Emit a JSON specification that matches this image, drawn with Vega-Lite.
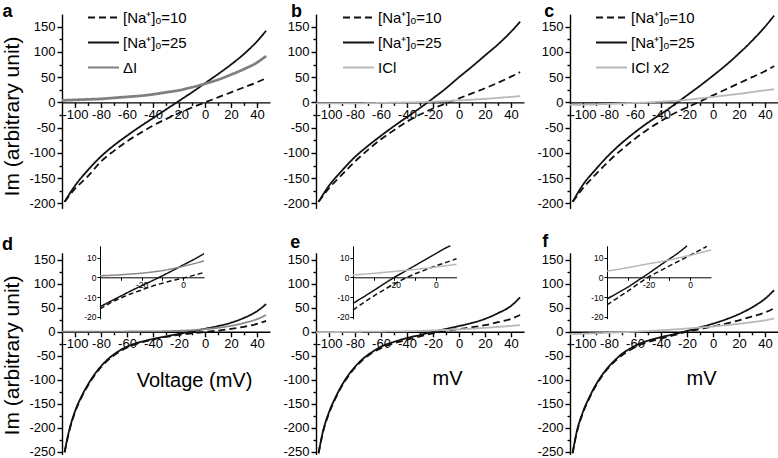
{
"$schema":"https://vega.github.io/schema/vega-lite/v6.json",
"width":778,"height":458,"autosize":{"type":"none"},"padding":0,"background":"white",
"config":{
 "font":"Liberation Sans",
 "view":{"stroke":null},
 "axis":{"domainColor":"#000","tickColor":"#000","labelColor":"#000","titleColor":"#000","grid":false,"domainWidth":1.4,"tickWidth":1.4,"labelOverlap":false,"labelFlush":false,"labelFontSize":13,"titleFontWeight":"normal"},
 "legend":{"symbolType":"stroke","symbolSize":961,"symbolStrokeWidth":1.8,"labelFontSize":15,"labelColor":"#000","labelOffset":3,"rowPadding":-6,"padding":0}
},
"datasets":{
"main":[
{"panel":"a","series":"[Na⁺]ₒ=10","mV":-108,"Im":-197},{"panel":"a","series":"[Na⁺]ₒ=10","mV":-100,"Im":-171},{"panel":"a","series":"[Na⁺]ₒ=10","mV":-90,"Im":-146},{"panel":"a","series":"[Na⁺]ₒ=10","mV":-80,"Im":-117},{"panel":"a","series":"[Na⁺]ₒ=10","mV":-70,"Im":-96},{"panel":"a","series":"[Na⁺]ₒ=10","mV":-60,"Im":-77},{"panel":"a","series":"[Na⁺]ₒ=10","mV":-50,"Im":-61},{"panel":"a","series":"[Na⁺]ₒ=10","mV":-40,"Im":-46},{"panel":"a","series":"[Na⁺]ₒ=10","mV":-30,"Im":-33},{"panel":"a","series":"[Na⁺]ₒ=10","mV":-20,"Im":-21},{"panel":"a","series":"[Na⁺]ₒ=10","mV":-10,"Im":-10},{"panel":"a","series":"[Na⁺]ₒ=10","mV":0,"Im":0},{"panel":"a","series":"[Na⁺]ₒ=10","mV":10,"Im":10},{"panel":"a","series":"[Na⁺]ₒ=10","mV":20,"Im":20},{"panel":"a","series":"[Na⁺]ₒ=10","mV":30,"Im":30},{"panel":"a","series":"[Na⁺]ₒ=10","mV":40,"Im":40},{"panel":"a","series":"[Na⁺]ₒ=10","mV":47,"Im":48},
{"panel":"a","series":"[Na⁺]ₒ=25","mV":-108,"Im":-197},{"panel":"a","series":"[Na⁺]ₒ=25","mV":-100,"Im":-165},{"panel":"a","series":"[Na⁺]ₒ=25","mV":-90,"Im":-134},{"panel":"a","series":"[Na⁺]ₒ=25","mV":-80,"Im":-107},{"panel":"a","series":"[Na⁺]ₒ=25","mV":-70,"Im":-85},{"panel":"a","series":"[Na⁺]ₒ=25","mV":-60,"Im":-66},{"panel":"a","series":"[Na⁺]ₒ=25","mV":-50,"Im":-48},{"panel":"a","series":"[Na⁺]ₒ=25","mV":-40,"Im":-31},{"panel":"a","series":"[Na⁺]ₒ=25","mV":-30,"Im":-14},{"panel":"a","series":"[Na⁺]ₒ=25","mV":-20,"Im":3},{"panel":"a","series":"[Na⁺]ₒ=25","mV":-10,"Im":20},{"panel":"a","series":"[Na⁺]ₒ=25","mV":0,"Im":38},{"panel":"a","series":"[Na⁺]ₒ=25","mV":10,"Im":56},{"panel":"a","series":"[Na⁺]ₒ=25","mV":20,"Im":75},{"panel":"a","series":"[Na⁺]ₒ=25","mV":30,"Im":96},{"panel":"a","series":"[Na⁺]ₒ=25","mV":40,"Im":121},{"panel":"a","series":"[Na⁺]ₒ=25","mV":47,"Im":142},
{"panel":"a","series":"ΔI","mV":-110,"Im":4},{"panel":"a","series":"ΔI","mV":-100,"Im":5},{"panel":"a","series":"ΔI","mV":-90,"Im":6},{"panel":"a","series":"ΔI","mV":-80,"Im":7},{"panel":"a","series":"ΔI","mV":-70,"Im":9},{"panel":"a","series":"ΔI","mV":-60,"Im":11},{"panel":"a","series":"ΔI","mV":-50,"Im":13},{"panel":"a","series":"ΔI","mV":-40,"Im":16},{"panel":"a","series":"ΔI","mV":-30,"Im":20},{"panel":"a","series":"ΔI","mV":-20,"Im":24},{"panel":"a","series":"ΔI","mV":-10,"Im":30},{"panel":"a","series":"ΔI","mV":0,"Im":37},{"panel":"a","series":"ΔI","mV":10,"Im":45},{"panel":"a","series":"ΔI","mV":20,"Im":55},{"panel":"a","series":"ΔI","mV":30,"Im":66},{"panel":"a","series":"ΔI","mV":40,"Im":79},{"panel":"a","series":"ΔI","mV":47,"Im":92},
{"panel":"b","series":"[Na⁺]ₒ=10","mV":-108,"Im":-197},{"panel":"b","series":"[Na⁺]ₒ=10","mV":-100,"Im":-170},{"panel":"b","series":"[Na⁺]ₒ=10","mV":-90,"Im":-143},{"panel":"b","series":"[Na⁺]ₒ=10","mV":-80,"Im":-117},{"panel":"b","series":"[Na⁺]ₒ=10","mV":-70,"Im":-94},{"panel":"b","series":"[Na⁺]ₒ=10","mV":-60,"Im":-73},{"panel":"b","series":"[Na⁺]ₒ=10","mV":-50,"Im":-55},{"panel":"b","series":"[Na⁺]ₒ=10","mV":-40,"Im":-38},{"panel":"b","series":"[Na⁺]ₒ=10","mV":-30,"Im":-24},{"panel":"b","series":"[Na⁺]ₒ=10","mV":-20,"Im":-12},{"panel":"b","series":"[Na⁺]ₒ=10","mV":-10,"Im":-2},{"panel":"b","series":"[Na⁺]ₒ=10","mV":0,"Im":8},{"panel":"b","series":"[Na⁺]ₒ=10","mV":10,"Im":18},{"panel":"b","series":"[Na⁺]ₒ=10","mV":20,"Im":28},{"panel":"b","series":"[Na⁺]ₒ=10","mV":30,"Im":39},{"panel":"b","series":"[Na⁺]ₒ=10","mV":40,"Im":51},{"panel":"b","series":"[Na⁺]ₒ=10","mV":47,"Im":60},
{"panel":"b","series":"[Na⁺]ₒ=25","mV":-108,"Im":-197},{"panel":"b","series":"[Na⁺]ₒ=25","mV":-100,"Im":-165},{"panel":"b","series":"[Na⁺]ₒ=25","mV":-90,"Im":-135},{"panel":"b","series":"[Na⁺]ₒ=25","mV":-80,"Im":-108},{"panel":"b","series":"[Na⁺]ₒ=25","mV":-70,"Im":-86},{"panel":"b","series":"[Na⁺]ₒ=25","mV":-60,"Im":-66},{"panel":"b","series":"[Na⁺]ₒ=25","mV":-50,"Im":-47},{"panel":"b","series":"[Na⁺]ₒ=25","mV":-40,"Im":-29},{"panel":"b","series":"[Na⁺]ₒ=25","mV":-30,"Im":-11},{"panel":"b","series":"[Na⁺]ₒ=25","mV":-20,"Im":8},{"panel":"b","series":"[Na⁺]ₒ=25","mV":-10,"Im":28},{"panel":"b","series":"[Na⁺]ₒ=25","mV":0,"Im":50},{"panel":"b","series":"[Na⁺]ₒ=25","mV":10,"Im":71},{"panel":"b","series":"[Na⁺]ₒ=25","mV":20,"Im":93},{"panel":"b","series":"[Na⁺]ₒ=25","mV":30,"Im":115},{"panel":"b","series":"[Na⁺]ₒ=25","mV":40,"Im":140},{"panel":"b","series":"[Na⁺]ₒ=25","mV":47,"Im":160},
{"panel":"b","series":"ICl","mV":-110,"Im":-2},{"panel":"b","series":"ICl","mV":-100,"Im":-2},{"panel":"b","series":"ICl","mV":-90,"Im":-2},{"panel":"b","series":"ICl","mV":-80,"Im":-2},{"panel":"b","series":"ICl","mV":-70,"Im":-1.5},{"panel":"b","series":"ICl","mV":-60,"Im":-1},{"panel":"b","series":"ICl","mV":-50,"Im":-0.5},{"panel":"b","series":"ICl","mV":-40,"Im":0},{"panel":"b","series":"ICl","mV":-30,"Im":0.5},{"panel":"b","series":"ICl","mV":-20,"Im":1.5},{"panel":"b","series":"ICl","mV":-10,"Im":2.5},{"panel":"b","series":"ICl","mV":0,"Im":4},{"panel":"b","series":"ICl","mV":10,"Im":5.5},{"panel":"b","series":"ICl","mV":20,"Im":7},{"panel":"b","series":"ICl","mV":30,"Im":9},{"panel":"b","series":"ICl","mV":40,"Im":11},{"panel":"b","series":"ICl","mV":47,"Im":12.5},
{"panel":"c","series":"[Na⁺]ₒ=10","mV":-108,"Im":-197},{"panel":"c","series":"[Na⁺]ₒ=10","mV":-100,"Im":-170},{"panel":"c","series":"[Na⁺]ₒ=10","mV":-90,"Im":-142},{"panel":"c","series":"[Na⁺]ₒ=10","mV":-80,"Im":-116},{"panel":"c","series":"[Na⁺]ₒ=10","mV":-70,"Im":-93},{"panel":"c","series":"[Na⁺]ₒ=10","mV":-60,"Im":-72},{"panel":"c","series":"[Na⁺]ₒ=10","mV":-50,"Im":-53},{"panel":"c","series":"[Na⁺]ₒ=10","mV":-40,"Im":-37},{"panel":"c","series":"[Na⁺]ₒ=10","mV":-30,"Im":-22},{"panel":"c","series":"[Na⁺]ₒ=10","mV":-20,"Im":-10},{"panel":"c","series":"[Na⁺]ₒ=10","mV":-10,"Im":2},{"panel":"c","series":"[Na⁺]ₒ=10","mV":0,"Im":14},{"panel":"c","series":"[Na⁺]ₒ=10","mV":10,"Im":26},{"panel":"c","series":"[Na⁺]ₒ=10","mV":20,"Im":38},{"panel":"c","series":"[Na⁺]ₒ=10","mV":30,"Im":50},{"panel":"c","series":"[Na⁺]ₒ=10","mV":40,"Im":62},{"panel":"c","series":"[Na⁺]ₒ=10","mV":47,"Im":72},
{"panel":"c","series":"[Na⁺]ₒ=25","mV":-108,"Im":-197},{"panel":"c","series":"[Na⁺]ₒ=25","mV":-100,"Im":-163},{"panel":"c","series":"[Na⁺]ₒ=25","mV":-90,"Im":-132},{"panel":"c","series":"[Na⁺]ₒ=25","mV":-80,"Im":-104},{"panel":"c","series":"[Na⁺]ₒ=25","mV":-70,"Im":-80},{"panel":"c","series":"[Na⁺]ₒ=25","mV":-60,"Im":-59},{"panel":"c","series":"[Na⁺]ₒ=25","mV":-50,"Im":-40},{"panel":"c","series":"[Na⁺]ₒ=25","mV":-40,"Im":-23},{"panel":"c","series":"[Na⁺]ₒ=25","mV":-30,"Im":-5},{"panel":"c","series":"[Na⁺]ₒ=25","mV":-20,"Im":14},{"panel":"c","series":"[Na⁺]ₒ=25","mV":-10,"Im":33},{"panel":"c","series":"[Na⁺]ₒ=25","mV":0,"Im":53},{"panel":"c","series":"[Na⁺]ₒ=25","mV":10,"Im":74},{"panel":"c","series":"[Na⁺]ₒ=25","mV":20,"Im":97},{"panel":"c","series":"[Na⁺]ₒ=25","mV":30,"Im":122},{"panel":"c","series":"[Na⁺]ₒ=25","mV":40,"Im":150},{"panel":"c","series":"[Na⁺]ₒ=25","mV":47,"Im":172},
{"panel":"c","series":"ICl x2","mV":-110,"Im":-5},{"panel":"c","series":"ICl x2","mV":-100,"Im":-4.5},{"panel":"c","series":"ICl x2","mV":-90,"Im":-4},{"panel":"c","series":"ICl x2","mV":-80,"Im":-3},{"panel":"c","series":"ICl x2","mV":-70,"Im":-2},{"panel":"c","series":"ICl x2","mV":-60,"Im":-1},{"panel":"c","series":"ICl x2","mV":-50,"Im":0},{"panel":"c","series":"ICl x2","mV":-40,"Im":1.5},{"panel":"c","series":"ICl x2","mV":-30,"Im":3},{"panel":"c","series":"ICl x2","mV":-20,"Im":5},{"panel":"c","series":"ICl x2","mV":-10,"Im":8},{"panel":"c","series":"ICl x2","mV":0,"Im":11},{"panel":"c","series":"ICl x2","mV":10,"Im":14},{"panel":"c","series":"ICl x2","mV":20,"Im":17},{"panel":"c","series":"ICl x2","mV":30,"Im":20.5},{"panel":"c","series":"ICl x2","mV":40,"Im":24},{"panel":"c","series":"ICl x2","mV":47,"Im":26},
{"panel":"d","series":"[Na⁺]ₒ=10","mV":-108,"Im":-252},{"panel":"d","series":"[Na⁺]ₒ=10","mV":-105,"Im":-214},{"panel":"d","series":"[Na⁺]ₒ=10","mV":-100,"Im":-168},{"panel":"d","series":"[Na⁺]ₒ=10","mV":-95,"Im":-137},{"panel":"d","series":"[Na⁺]ₒ=10","mV":-90,"Im":-112},{"panel":"d","series":"[Na⁺]ₒ=10","mV":-85,"Im":-91},{"panel":"d","series":"[Na⁺]ₒ=10","mV":-80,"Im":-74},{"panel":"d","series":"[Na⁺]ₒ=10","mV":-75,"Im":-60},{"panel":"d","series":"[Na⁺]ₒ=10","mV":-70,"Im":-49},{"panel":"d","series":"[Na⁺]ₒ=10","mV":-65,"Im":-40},{"panel":"d","series":"[Na⁺]ₒ=10","mV":-60,"Im":-33},{"panel":"d","series":"[Na⁺]ₒ=10","mV":-50,"Im":-23},{"panel":"d","series":"[Na⁺]ₒ=10","mV":-40,"Im":-16},{"panel":"d","series":"[Na⁺]ₒ=10","mV":-30,"Im":-10.5},{"panel":"d","series":"[Na⁺]ₒ=10","mV":-20,"Im":-6.4},{"panel":"d","series":"[Na⁺]ₒ=10","mV":-10,"Im":-3},{"panel":"d","series":"[Na⁺]ₒ=10","mV":0,"Im":-0.4},{"panel":"d","series":"[Na⁺]ₒ=10","mV":10,"Im":2.5},{"panel":"d","series":"[Na⁺]ₒ=10","mV":20,"Im":6},{"panel":"d","series":"[Na⁺]ₒ=10","mV":30,"Im":10.5},{"panel":"d","series":"[Na⁺]ₒ=10","mV":40,"Im":16.5},{"panel":"d","series":"[Na⁺]ₒ=10","mV":47,"Im":23},
{"panel":"d","series":"[Na⁺]ₒ=25","mV":-108,"Im":-251},{"panel":"d","series":"[Na⁺]ₒ=25","mV":-105,"Im":-212},{"panel":"d","series":"[Na⁺]ₒ=25","mV":-100,"Im":-166},{"panel":"d","series":"[Na⁺]ₒ=25","mV":-95,"Im":-135},{"panel":"d","series":"[Na⁺]ₒ=25","mV":-90,"Im":-110},{"panel":"d","series":"[Na⁺]ₒ=25","mV":-85,"Im":-89},{"panel":"d","series":"[Na⁺]ₒ=25","mV":-80,"Im":-72},{"panel":"d","series":"[Na⁺]ₒ=25","mV":-75,"Im":-58},{"panel":"d","series":"[Na⁺]ₒ=25","mV":-70,"Im":-47},{"panel":"d","series":"[Na⁺]ₒ=25","mV":-65,"Im":-38},{"panel":"d","series":"[Na⁺]ₒ=25","mV":-60,"Im":-31},{"panel":"d","series":"[Na⁺]ₒ=25","mV":-50,"Im":-21.5},{"panel":"d","series":"[Na⁺]ₒ=25","mV":-40,"Im":-15},{"panel":"d","series":"[Na⁺]ₒ=25","mV":-30,"Im":-9.5},{"panel":"d","series":"[Na⁺]ₒ=25","mV":-20,"Im":-4.3},{"panel":"d","series":"[Na⁺]ₒ=25","mV":-10,"Im":0.8},{"panel":"d","series":"[Na⁺]ₒ=25","mV":0,"Im":6.3},{"panel":"d","series":"[Na⁺]ₒ=25","mV":10,"Im":12},{"panel":"d","series":"[Na⁺]ₒ=25","mV":20,"Im":19},{"panel":"d","series":"[Na⁺]ₒ=25","mV":30,"Im":29},{"panel":"d","series":"[Na⁺]ₒ=25","mV":40,"Im":43},{"panel":"d","series":"[Na⁺]ₒ=25","mV":47,"Im":58},
{"panel":"d","series":"ΔI","mV":-110,"Im":0.2},{"panel":"d","series":"ΔI","mV":-100,"Im":0.3},{"panel":"d","series":"ΔI","mV":-90,"Im":0.3},{"panel":"d","series":"ΔI","mV":-80,"Im":0.4},{"panel":"d","series":"ΔI","mV":-70,"Im":0.5},{"panel":"d","series":"ΔI","mV":-60,"Im":0.6},{"panel":"d","series":"ΔI","mV":-50,"Im":0.7},{"panel":"d","series":"ΔI","mV":-40,"Im":0.8},{"panel":"d","series":"ΔI","mV":-30,"Im":1.3},{"panel":"d","series":"ΔI","mV":-20,"Im":2.1},{"panel":"d","series":"ΔI","mV":-10,"Im":3.4},{"panel":"d","series":"ΔI","mV":0,"Im":5.6},{"panel":"d","series":"ΔI","mV":10,"Im":8.3},{"panel":"d","series":"ΔI","mV":20,"Im":12.5},{"panel":"d","series":"ΔI","mV":30,"Im":18.5},{"panel":"d","series":"ΔI","mV":40,"Im":26.5},{"panel":"d","series":"ΔI","mV":47,"Im":35},
{"panel":"e","series":"[Na⁺]ₒ=10","mV":-108,"Im":-254},{"panel":"e","series":"[Na⁺]ₒ=10","mV":-105,"Im":-214},{"panel":"e","series":"[Na⁺]ₒ=10","mV":-100,"Im":-170},{"panel":"e","series":"[Na⁺]ₒ=10","mV":-95,"Im":-139},{"panel":"e","series":"[Na⁺]ₒ=10","mV":-90,"Im":-113},{"panel":"e","series":"[Na⁺]ₒ=10","mV":-85,"Im":-92},{"panel":"e","series":"[Na⁺]ₒ=10","mV":-80,"Im":-75},{"panel":"e","series":"[Na⁺]ₒ=10","mV":-75,"Im":-61},{"panel":"e","series":"[Na⁺]ₒ=10","mV":-70,"Im":-50},{"panel":"e","series":"[Na⁺]ₒ=10","mV":-65,"Im":-41},{"panel":"e","series":"[Na⁺]ₒ=10","mV":-60,"Im":-34},{"panel":"e","series":"[Na⁺]ₒ=10","mV":-50,"Im":-24},{"panel":"e","series":"[Na⁺]ₒ=10","mV":-40,"Im":-16.5},{"panel":"e","series":"[Na⁺]ₒ=10","mV":-30,"Im":-9.5},{"panel":"e","series":"[Na⁺]ₒ=10","mV":-20,"Im":-3.3},{"panel":"e","series":"[Na⁺]ₒ=10","mV":-10,"Im":1.8},{"panel":"e","series":"[Na⁺]ₒ=10","mV":0,"Im":5.8},{"panel":"e","series":"[Na⁺]ₒ=10","mV":10,"Im":9.5},{"panel":"e","series":"[Na⁺]ₒ=10","mV":20,"Im":14},{"panel":"e","series":"[Na⁺]ₒ=10","mV":30,"Im":20},{"panel":"e","series":"[Na⁺]ₒ=10","mV":40,"Im":27},{"panel":"e","series":"[Na⁺]ₒ=10","mV":47,"Im":35},
{"panel":"e","series":"[Na⁺]ₒ=25","mV":-108,"Im":-253},{"panel":"e","series":"[Na⁺]ₒ=25","mV":-105,"Im":-212},{"panel":"e","series":"[Na⁺]ₒ=25","mV":-100,"Im":-168},{"panel":"e","series":"[Na⁺]ₒ=25","mV":-95,"Im":-137},{"panel":"e","series":"[Na⁺]ₒ=25","mV":-90,"Im":-111},{"panel":"e","series":"[Na⁺]ₒ=25","mV":-85,"Im":-90},{"panel":"e","series":"[Na⁺]ₒ=25","mV":-80,"Im":-73},{"panel":"e","series":"[Na⁺]ₒ=25","mV":-75,"Im":-59},{"panel":"e","series":"[Na⁺]ₒ=25","mV":-70,"Im":-48},{"panel":"e","series":"[Na⁺]ₒ=25","mV":-65,"Im":-39},{"panel":"e","series":"[Na⁺]ₒ=25","mV":-60,"Im":-31},{"panel":"e","series":"[Na⁺]ₒ=25","mV":-50,"Im":-21},{"panel":"e","series":"[Na⁺]ₒ=25","mV":-40,"Im":-13},{"panel":"e","series":"[Na⁺]ₒ=25","mV":-30,"Im":-6.7},{"panel":"e","series":"[Na⁺]ₒ=25","mV":-20,"Im":0},{"panel":"e","series":"[Na⁺]ₒ=25","mV":-10,"Im":6},{"panel":"e","series":"[Na⁺]ₒ=25","mV":0,"Im":12},{"panel":"e","series":"[Na⁺]ₒ=25","mV":10,"Im":18.5},{"panel":"e","series":"[Na⁺]ₒ=25","mV":20,"Im":27},{"panel":"e","series":"[Na⁺]ₒ=25","mV":30,"Im":39},{"panel":"e","series":"[Na⁺]ₒ=25","mV":40,"Im":54},{"panel":"e","series":"[Na⁺]ₒ=25","mV":47,"Im":72},
{"panel":"e","series":"ICl","mV":-110,"Im":-1},{"panel":"e","series":"ICl","mV":-100,"Im":-0.6},{"panel":"e","series":"ICl","mV":-90,"Im":-0.3},{"panel":"e","series":"ICl","mV":-80,"Im":0},{"panel":"e","series":"ICl","mV":-70,"Im":0.3},{"panel":"e","series":"ICl","mV":-60,"Im":0.6},{"panel":"e","series":"ICl","mV":-50,"Im":0.9},{"panel":"e","series":"ICl","mV":-40,"Im":1.2},{"panel":"e","series":"ICl","mV":-30,"Im":2},{"panel":"e","series":"ICl","mV":-20,"Im":3},{"panel":"e","series":"ICl","mV":-10,"Im":4},{"panel":"e","series":"ICl","mV":0,"Im":5.2},{"panel":"e","series":"ICl","mV":10,"Im":6.6},{"panel":"e","series":"ICl","mV":20,"Im":8.3},{"panel":"e","series":"ICl","mV":30,"Im":10.2},{"panel":"e","series":"ICl","mV":40,"Im":12.3},{"panel":"e","series":"ICl","mV":47,"Im":14},
{"panel":"f","series":"[Na⁺]ₒ=10","mV":-108,"Im":-254},{"panel":"f","series":"[Na⁺]ₒ=10","mV":-105,"Im":-213},{"panel":"f","series":"[Na⁺]ₒ=10","mV":-100,"Im":-169},{"panel":"f","series":"[Na⁺]ₒ=10","mV":-95,"Im":-138},{"panel":"f","series":"[Na⁺]ₒ=10","mV":-90,"Im":-112},{"panel":"f","series":"[Na⁺]ₒ=10","mV":-85,"Im":-91},{"panel":"f","series":"[Na⁺]ₒ=10","mV":-80,"Im":-74},{"panel":"f","series":"[Na⁺]ₒ=10","mV":-75,"Im":-60},{"panel":"f","series":"[Na⁺]ₒ=10","mV":-70,"Im":-49},{"panel":"f","series":"[Na⁺]ₒ=10","mV":-65,"Im":-40},{"panel":"f","series":"[Na⁺]ₒ=10","mV":-60,"Im":-32},{"panel":"f","series":"[Na⁺]ₒ=10","mV":-50,"Im":-21.5},{"panel":"f","series":"[Na⁺]ₒ=10","mV":-40,"Im":-14},{"panel":"f","series":"[Na⁺]ₒ=10","mV":-30,"Im":-7},{"panel":"f","series":"[Na⁺]ₒ=10","mV":-20,"Im":0.2},{"panel":"f","series":"[Na⁺]ₒ=10","mV":-10,"Im":5.8},{"panel":"f","series":"[Na⁺]ₒ=10","mV":0,"Im":11.2},{"panel":"f","series":"[Na⁺]ₒ=10","mV":10,"Im":17},{"panel":"f","series":"[Na⁺]ₒ=10","mV":20,"Im":24},{"panel":"f","series":"[Na⁺]ₒ=10","mV":30,"Im":32},{"panel":"f","series":"[Na⁺]ₒ=10","mV":40,"Im":40.5},{"panel":"f","series":"[Na⁺]ₒ=10","mV":47,"Im":49},
{"panel":"f","series":"[Na⁺]ₒ=25","mV":-108,"Im":-253},{"panel":"f","series":"[Na⁺]ₒ=25","mV":-105,"Im":-211},{"panel":"f","series":"[Na⁺]ₒ=25","mV":-100,"Im":-167},{"panel":"f","series":"[Na⁺]ₒ=25","mV":-95,"Im":-136},{"panel":"f","series":"[Na⁺]ₒ=25","mV":-90,"Im":-110},{"panel":"f","series":"[Na⁺]ₒ=25","mV":-85,"Im":-89},{"panel":"f","series":"[Na⁺]ₒ=25","mV":-80,"Im":-72},{"panel":"f","series":"[Na⁺]ₒ=25","mV":-75,"Im":-58},{"panel":"f","series":"[Na⁺]ₒ=25","mV":-70,"Im":-46},{"panel":"f","series":"[Na⁺]ₒ=25","mV":-65,"Im":-37},{"panel":"f","series":"[Na⁺]ₒ=25","mV":-60,"Im":-29},{"panel":"f","series":"[Na⁺]ₒ=25","mV":-50,"Im":-18.5},{"panel":"f","series":"[Na⁺]ₒ=25","mV":-40,"Im":-11},{"panel":"f","series":"[Na⁺]ₒ=25","mV":-30,"Im":-5},{"panel":"f","series":"[Na⁺]ₒ=25","mV":-20,"Im":2},{"panel":"f","series":"[Na⁺]ₒ=25","mV":-10,"Im":9.3},{"panel":"f","series":"[Na⁺]ₒ=25","mV":0,"Im":17},{"panel":"f","series":"[Na⁺]ₒ=25","mV":10,"Im":26},{"panel":"f","series":"[Na⁺]ₒ=25","mV":20,"Im":37},{"panel":"f","series":"[Na⁺]ₒ=25","mV":30,"Im":51},{"panel":"f","series":"[Na⁺]ₒ=25","mV":40,"Im":69},{"panel":"f","series":"[Na⁺]ₒ=25","mV":47,"Im":87},
{"panel":"f","series":"ICl x2","mV":-110,"Im":-5},{"panel":"f","series":"ICl x2","mV":-100,"Im":-4},{"panel":"f","series":"ICl x2","mV":-90,"Im":-3},{"panel":"f","series":"ICl x2","mV":-80,"Im":-2},{"panel":"f","series":"ICl x2","mV":-70,"Im":-1},{"panel":"f","series":"ICl x2","mV":-60,"Im":0.2},{"panel":"f","series":"ICl x2","mV":-50,"Im":1.6},{"panel":"f","series":"ICl x2","mV":-40,"Im":3.2},{"panel":"f","series":"ICl x2","mV":-30,"Im":4.9},{"panel":"f","series":"ICl x2","mV":-20,"Im":6.9},{"panel":"f","series":"ICl x2","mV":-10,"Im":8.9},{"panel":"f","series":"ICl x2","mV":0,"Im":11.2},{"panel":"f","series":"ICl x2","mV":10,"Im":13.9},{"panel":"f","series":"ICl x2","mV":20,"Im":16.8},{"panel":"f","series":"ICl x2","mV":30,"Im":20.2},{"panel":"f","series":"ICl x2","mV":40,"Im":24},{"panel":"f","series":"ICl x2","mV":47,"Im":28}
],
"inset":[
{"panel":"d","series":"[Na⁺]ₒ=25","mV":-40,"Im":-15},{"panel":"d","series":"[Na⁺]ₒ=25","mV":-35,"Im":-12.2},{"panel":"d","series":"[Na⁺]ₒ=25","mV":-30,"Im":-9.5},{"panel":"d","series":"[Na⁺]ₒ=25","mV":-25,"Im":-6.8},{"panel":"d","series":"[Na⁺]ₒ=25","mV":-20,"Im":-4.3},{"panel":"d","series":"[Na⁺]ₒ=25","mV":-15,"Im":-1.8},{"panel":"d","series":"[Na⁺]ₒ=25","mV":-10,"Im":0.8},{"panel":"d","series":"[Na⁺]ₒ=25","mV":-5,"Im":3.5},{"panel":"d","series":"[Na⁺]ₒ=25","mV":0,"Im":6.3},{"panel":"d","series":"[Na⁺]ₒ=25","mV":5,"Im":9},{"panel":"d","series":"[Na⁺]ₒ=25","mV":10,"Im":12},
{"panel":"d","series":"[Na⁺]ₒ=10","mV":-40,"Im":-16},{"panel":"d","series":"[Na⁺]ₒ=10","mV":-35,"Im":-13},{"panel":"d","series":"[Na⁺]ₒ=10","mV":-30,"Im":-10.5},{"panel":"d","series":"[Na⁺]ₒ=10","mV":-25,"Im":-8.3},{"panel":"d","series":"[Na⁺]ₒ=10","mV":-20,"Im":-6.4},{"panel":"d","series":"[Na⁺]ₒ=10","mV":-15,"Im":-4.5},{"panel":"d","series":"[Na⁺]ₒ=10","mV":-10,"Im":-3},{"panel":"d","series":"[Na⁺]ₒ=10","mV":-5,"Im":-1.6},{"panel":"d","series":"[Na⁺]ₒ=10","mV":0,"Im":-0.4},{"panel":"d","series":"[Na⁺]ₒ=10","mV":5,"Im":1},{"panel":"d","series":"[Na⁺]ₒ=10","mV":10,"Im":2.5},
{"panel":"d","series":"ΔI","mV":-40,"Im":0.8},{"panel":"d","series":"ΔI","mV":-35,"Im":1},{"panel":"d","series":"ΔI","mV":-30,"Im":1.3},{"panel":"d","series":"ΔI","mV":-25,"Im":1.7},{"panel":"d","series":"ΔI","mV":-20,"Im":2.1},{"panel":"d","series":"ΔI","mV":-15,"Im":2.7},{"panel":"d","series":"ΔI","mV":-10,"Im":3.4},{"panel":"d","series":"ΔI","mV":-5,"Im":4.4},{"panel":"d","series":"ΔI","mV":0,"Im":5.6},{"panel":"d","series":"ΔI","mV":5,"Im":6.9},{"panel":"d","series":"ΔI","mV":10,"Im":8.3},
{"panel":"e","series":"[Na⁺]ₒ=25","mV":-40,"Im":-13.2},{"panel":"e","series":"[Na⁺]ₒ=25","mV":-35,"Im":-10},{"panel":"e","series":"[Na⁺]ₒ=25","mV":-30,"Im":-6.7},{"panel":"e","series":"[Na⁺]ₒ=25","mV":-25,"Im":-3.3},{"panel":"e","series":"[Na⁺]ₒ=25","mV":-20,"Im":0},{"panel":"e","series":"[Na⁺]ₒ=25","mV":-15,"Im":3},{"panel":"e","series":"[Na⁺]ₒ=25","mV":-10,"Im":6},{"panel":"e","series":"[Na⁺]ₒ=25","mV":-5,"Im":9},{"panel":"e","series":"[Na⁺]ₒ=25","mV":0,"Im":12},{"panel":"e","series":"[Na⁺]ₒ=25","mV":5,"Im":15},{"panel":"e","series":"[Na⁺]ₒ=25","mV":7,"Im":16},
{"panel":"e","series":"[Na⁺]ₒ=10","mV":-40,"Im":-16.6},{"panel":"e","series":"[Na⁺]ₒ=10","mV":-35,"Im":-13},{"panel":"e","series":"[Na⁺]ₒ=10","mV":-30,"Im":-9.5},{"panel":"e","series":"[Na⁺]ₒ=10","mV":-25,"Im":-6.3},{"panel":"e","series":"[Na⁺]ₒ=10","mV":-20,"Im":-3.3},{"panel":"e","series":"[Na⁺]ₒ=10","mV":-15,"Im":-0.6},{"panel":"e","series":"[Na⁺]ₒ=10","mV":-10,"Im":1.8},{"panel":"e","series":"[Na⁺]ₒ=10","mV":-5,"Im":3.8},{"panel":"e","series":"[Na⁺]ₒ=10","mV":0,"Im":5.8},{"panel":"e","series":"[Na⁺]ₒ=10","mV":5,"Im":7.6},{"panel":"e","series":"[Na⁺]ₒ=10","mV":10,"Im":9.4},
{"panel":"e","series":"ICl","mV":-40,"Im":1.2},{"panel":"e","series":"ICl","mV":-35,"Im":1.6},{"panel":"e","series":"ICl","mV":-30,"Im":2},{"panel":"e","series":"ICl","mV":-25,"Im":2.5},{"panel":"e","series":"ICl","mV":-20,"Im":3},{"panel":"e","series":"ICl","mV":-15,"Im":3.5},{"panel":"e","series":"ICl","mV":-10,"Im":4},{"panel":"e","series":"ICl","mV":-5,"Im":4.6},{"panel":"e","series":"ICl","mV":0,"Im":5.2},{"panel":"e","series":"ICl","mV":5,"Im":5.9},{"panel":"e","series":"ICl","mV":10,"Im":6.6},
{"panel":"f","series":"[Na⁺]ₒ=25","mV":-40,"Im":-11},{"panel":"f","series":"[Na⁺]ₒ=25","mV":-35,"Im":-8},{"panel":"f","series":"[Na⁺]ₒ=25","mV":-30,"Im":-5},{"panel":"f","series":"[Na⁺]ₒ=25","mV":-25,"Im":-1.5},{"panel":"f","series":"[Na⁺]ₒ=25","mV":-20,"Im":2},{"panel":"f","series":"[Na⁺]ₒ=25","mV":-15,"Im":5.7},{"panel":"f","series":"[Na⁺]ₒ=25","mV":-10,"Im":9.3},{"panel":"f","series":"[Na⁺]ₒ=25","mV":-5,"Im":13},{"panel":"f","series":"[Na⁺]ₒ=25","mV":-1.5,"Im":16},
{"panel":"f","series":"[Na⁺]ₒ=10","mV":-40,"Im":-14},{"panel":"f","series":"[Na⁺]ₒ=10","mV":-35,"Im":-10.5},{"panel":"f","series":"[Na⁺]ₒ=10","mV":-30,"Im":-7},{"panel":"f","series":"[Na⁺]ₒ=10","mV":-25,"Im":-3.3},{"panel":"f","series":"[Na⁺]ₒ=10","mV":-20,"Im":0.2},{"panel":"f","series":"[Na⁺]ₒ=10","mV":-15,"Im":3},{"panel":"f","series":"[Na⁺]ₒ=10","mV":-10,"Im":5.8},{"panel":"f","series":"[Na⁺]ₒ=10","mV":-5,"Im":8.5},{"panel":"f","series":"[Na⁺]ₒ=10","mV":0,"Im":11.2},{"panel":"f","series":"[Na⁺]ₒ=10","mV":5,"Im":14},{"panel":"f","series":"[Na⁺]ₒ=10","mV":8,"Im":15.7},
{"panel":"f","series":"ICl x2","mV":-40,"Im":3.2},{"panel":"f","series":"ICl x2","mV":-35,"Im":4},{"panel":"f","series":"ICl x2","mV":-30,"Im":4.9},{"panel":"f","series":"ICl x2","mV":-25,"Im":5.9},{"panel":"f","series":"ICl x2","mV":-20,"Im":6.9},{"panel":"f","series":"ICl x2","mV":-15,"Im":7.8},{"panel":"f","series":"ICl x2","mV":-10,"Im":8.8},{"panel":"f","series":"ICl x2","mV":-5,"Im":10},{"panel":"f","series":"ICl x2","mV":0,"Im":11.2},{"panel":"f","series":"ICl x2","mV":5,"Im":12.5},{"panel":"f","series":"ICl x2","mV":10,"Im":13.9}
],
"letters":[{"letter":"a"},{"letter":"b"},{"letter":"c"},{"letter":"d"},{"letter":"e"},{"letter":"f"}]
},
"layer":[
 {"data":{"name":"main"},"transform":[{"filter":"datum.panel === 'a'"}],"mark":{"type":"line","interpolate":"monotone"},
  "encoding":{
   "x":{"field":"mV","type":"quantitative","scale":{"domain":[-110,50],"range":[62,270],"nice":false,"zero":false},"axis":{"orient":"bottom","offset":-355.6,"values":[-100,-90,-80,-70,-60,-50,-40,-30,-20,-10,0,10,20,30,40],"labelExpr":"datum.value % 20 === 0 ? '' + datum.value : ''","tickSize":{"condition":{"test":"datum.value % 20 === 0","value":5},"value":3},"labelPadding":1,"title":null}},
   "y":{"field":"Im","type":"quantitative","scale":{"domain":[-210,175],"range":[208.4,14.1],"nice":false,"zero":false},"axis":{"orient":"left","offset":-62,"values":[-200,-175,-150,-125,-100,-75,-50,-25,0,25,50,75,100,125,150],"labelExpr":"datum.value % 50 === 0 ? '' + datum.value : ''","tickSize":{"condition":{"test":"datum.value % 50 === 0","value":5},"value":3},"labelPadding":2,"title":"Im (arbitrary unit)","titleFontSize":21,"titleX":-50,"titleY":116,"titleBaseline":"middle"}},
   "color":{"field":"series","type":"nominal","scale":{"domain":["[Na⁺]ₒ=10","[Na⁺]ₒ=25","ΔI"],"range":["#111111","#111111","#808080"]},"legend":{"title":null,"orient":"none","legendX":87,"legendY":1}},
   "strokeDash":{"field":"series","type":"nominal","scale":{"domain":["[Na⁺]ₒ=10","[Na⁺]ₒ=25","ΔI"],"range":[[7,4],[1,0],[1,0]]},"legend":{"title":null,"orient":"none","legendX":87,"legendY":1}},
   "strokeWidth":{"condition":{"test":"datum.series === 'ΔI'","value":2.8},"value":1.8}
  }},
 {"data":{"name":"letters"},"transform":[{"filter":"datum.letter === 'a'"}],"mark":{"type":"text","fontSize":18,"fontWeight":"bold","align":"center","baseline":"alphabetic","color":"#000"},
  "encoding":{"x":{"datum":-152,"type":"quantitative","scale":{"domain":[-110,50],"range":[62,270]},"axis":null},"y":{"datum":169,"type":"quantitative","scale":{"domain":[-210,175],"range":[208.4,14.1]},"axis":null},"text":{"field":"letter"}}},
 {"data":{"name":"main"},"transform":[{"filter":"datum.panel === 'b'"}],"mark":{"type":"line","interpolate":"monotone","strokeWidth":1.8},
  "encoding":{
   "x":{"field":"mV","type":"quantitative","scale":{"domain":[-110,50],"range":[316,524],"nice":false,"zero":false},"axis":{"orient":"bottom","offset":-355.6,"values":[-100,-90,-80,-70,-60,-50,-40,-30,-20,-10,0,10,20,30,40],"labelExpr":"datum.value % 20 === 0 ? '' + datum.value : ''","tickSize":{"condition":{"test":"datum.value % 20 === 0","value":5},"value":3},"labelPadding":1,"title":null}},
   "y":{"field":"Im","type":"quantitative","scale":{"domain":[-210,175],"range":[208.4,14.1],"nice":false,"zero":false},"axis":{"orient":"left","offset":-316,"values":[-200,-175,-150,-125,-100,-75,-50,-25,0,25,50,75,100,125,150],"labelExpr":"datum.value % 50 === 0 ? '' + datum.value : ''","tickSize":{"condition":{"test":"datum.value % 50 === 0","value":5},"value":3},"labelPadding":2,"title":null}},
   "color":{"field":"series","type":"nominal","scale":{"domain":["[Na⁺]ₒ=10","[Na⁺]ₒ=25","ICl"],"range":["#111111","#111111","#b8b8b8"]},"legend":{"title":null,"orient":"none","legendX":342,"legendY":1}},
   "strokeDash":{"field":"series","type":"nominal","scale":{"domain":["[Na⁺]ₒ=10","[Na⁺]ₒ=25","ICl"],"range":[[7,4],[1,0],[1,0]]},"legend":{"title":null,"orient":"none","legendX":342,"legendY":1}}
  }},
 {"data":{"name":"letters"},"transform":[{"filter":"datum.letter === 'b'"}],"mark":{"type":"text","fontSize":18,"fontWeight":"bold","align":"center","baseline":"alphabetic","color":"#000"},
  "encoding":{"x":{"datum":-125,"type":"quantitative","scale":{"domain":[-110,50],"range":[316,524]},"axis":null},"y":{"datum":169,"type":"quantitative","scale":{"domain":[-210,175],"range":[208.4,14.1]},"axis":null},"text":{"field":"letter"}}},
 {"data":{"name":"main"},"transform":[{"filter":"datum.panel === 'c'"}],"mark":{"type":"line","interpolate":"monotone","strokeWidth":1.8},
  "encoding":{
   "x":{"field":"mV","type":"quantitative","scale":{"domain":[-110,50],"range":[570,778],"nice":false,"zero":false},"axis":{"orient":"bottom","offset":-355.6,"values":[-100,-90,-80,-70,-60,-50,-40,-30,-20,-10,0,10,20,30,40],"labelExpr":"datum.value % 20 === 0 ? '' + datum.value : ''","tickSize":{"condition":{"test":"datum.value % 20 === 0","value":5},"value":3},"labelPadding":1,"title":null}},
   "y":{"field":"Im","type":"quantitative","scale":{"domain":[-210,175],"range":[208.4,14.1],"nice":false,"zero":false},"axis":{"orient":"left","offset":-570,"values":[-200,-175,-150,-125,-100,-75,-50,-25,0,25,50,75,100,125,150],"labelExpr":"datum.value % 50 === 0 ? '' + datum.value : ''","tickSize":{"condition":{"test":"datum.value % 50 === 0","value":5},"value":3},"labelPadding":2,"title":null}},
   "color":{"field":"series","type":"nominal","scale":{"domain":["[Na⁺]ₒ=10","[Na⁺]ₒ=25","ICl x2"],"range":["#111111","#111111","#b8b8b8"]},"legend":{"title":null,"orient":"none","legendX":595,"legendY":1}},
   "strokeDash":{"field":"series","type":"nominal","scale":{"domain":["[Na⁺]ₒ=10","[Na⁺]ₒ=25","ICl x2"],"range":[[7,4],[1,0],[1,0]]},"legend":{"title":null,"orient":"none","legendX":595,"legendY":1}}
  }},
 {"data":{"name":"letters"},"transform":[{"filter":"datum.letter === 'c'"}],"mark":{"type":"text","fontSize":18,"fontWeight":"bold","align":"center","baseline":"alphabetic","color":"#000"},
  "encoding":{"x":{"datum":-126,"type":"quantitative","scale":{"domain":[-110,50],"range":[570,778]},"axis":null},"y":{"datum":169,"type":"quantitative","scale":{"domain":[-210,175],"range":[208.4,14.1]},"axis":null},"text":{"field":"letter"}}},
 {"data":{"name":"main"},"transform":[{"filter":"datum.panel === 'd'"}],"mark":{"type":"line","interpolate":"monotone","strokeWidth":1.8},
  "encoding":{
   "x":{"field":"mV","type":"quantitative","scale":{"domain":[-110,50],"range":[62,270],"nice":false,"zero":false},"axis":{"orient":"bottom","offset":-126.2,"values":[-100,-90,-80,-70,-60,-50,-40,-30,-20,-10,0,10,20,30,40],"labelExpr":"datum.value % 20 === 0 ? '' + datum.value : ''","tickSize":{"condition":{"test":"datum.value % 20 === 0","value":5},"value":3},"labelPadding":1,"title":"Voltage (mV)","titleFontSize":20,"titleX":194,"titleY":49,"titleBaseline":"middle"}},
   "y":{"field":"Im","type":"quantitative","scale":{"domain":[-256,165],"range":[454.4,252.8],"nice":false,"zero":false},"axis":{"orient":"left","offset":-62,"values":[-250,-225,-200,-175,-150,-125,-100,-75,-50,-25,0,25,50,75,100,125,150],"labelExpr":"datum.value % 50 === 0 ? '' + datum.value : ''","tickSize":{"condition":{"test":"datum.value % 50 === 0","value":5},"value":3},"labelPadding":2,"title":"Im (arbitrary unit)","titleFontSize":21,"titleX":-50,"titleY":355,"titleBaseline":"middle"}},
   "color":{"field":"series","type":"nominal","scale":{"domain":["[Na⁺]ₒ=10","[Na⁺]ₒ=25","ΔI"],"range":["#111111","#111111","#888888"]},"legend":null},
   "strokeDash":{"field":"series","type":"nominal","scale":{"domain":["[Na⁺]ₒ=10","[Na⁺]ₒ=25","ΔI"],"range":[[7,4],[1,0],[1,0]]},"legend":null}
  }},
 {"data":{"name":"letters"},"transform":[{"filter":"datum.letter === 'd'"}],"mark":{"type":"text","fontSize":18,"fontWeight":"bold","align":"center","baseline":"alphabetic","color":"#000"},
  "encoding":{"x":{"datum":-152,"type":"quantitative","scale":{"domain":[-110,50],"range":[62,270]},"axis":null},"y":{"datum":171,"type":"quantitative","scale":{"domain":[-256,165],"range":[454.4,252.8]},"axis":null},"text":{"field":"letter"}}},
 {"data":{"name":"main"},"transform":[{"filter":"datum.panel === 'e'"}],"mark":{"type":"line","interpolate":"monotone","strokeWidth":1.8},
  "encoding":{
   "x":{"field":"mV","type":"quantitative","scale":{"domain":[-110,50],"range":[316,524],"nice":false,"zero":false},"axis":{"orient":"bottom","offset":-126.2,"values":[-100,-90,-80,-70,-60,-50,-40,-30,-20,-10,0,10,20,30,40],"labelExpr":"datum.value % 20 === 0 ? '' + datum.value : ''","tickSize":{"condition":{"test":"datum.value % 20 === 0","value":5},"value":3},"labelPadding":1,"title":"mV","titleFontSize":20,"titleX":447,"titleY":47,"titleBaseline":"middle"}},
   "y":{"field":"Im","type":"quantitative","scale":{"domain":[-256,165],"range":[454.4,252.8],"nice":false,"zero":false},"axis":{"orient":"left","offset":-316,"values":[-250,-225,-200,-175,-150,-125,-100,-75,-50,-25,0,25,50,75,100,125,150],"labelExpr":"datum.value % 50 === 0 ? '' + datum.value : ''","tickSize":{"condition":{"test":"datum.value % 50 === 0","value":5},"value":3},"labelPadding":2,"title":null}},
   "color":{"field":"series","type":"nominal","scale":{"domain":["[Na⁺]ₒ=10","[Na⁺]ₒ=25","ICl"],"range":["#111111","#111111","#b8b8b8"]},"legend":null},
   "strokeDash":{"field":"series","type":"nominal","scale":{"domain":["[Na⁺]ₒ=10","[Na⁺]ₒ=25","ICl"],"range":[[7,4],[1,0],[1,0]]},"legend":null}
  }},
 {"data":{"name":"letters"},"transform":[{"filter":"datum.letter === 'e'"}],"mark":{"type":"text","fontSize":18,"fontWeight":"bold","align":"center","baseline":"alphabetic","color":"#000"},
  "encoding":{"x":{"datum":-126,"type":"quantitative","scale":{"domain":[-110,50],"range":[316,524]},"axis":null},"y":{"datum":174,"type":"quantitative","scale":{"domain":[-256,165],"range":[454.4,252.8]},"axis":null},"text":{"field":"letter"}}},
 {"data":{"name":"main"},"transform":[{"filter":"datum.panel === 'f'"}],"mark":{"type":"line","interpolate":"monotone","strokeWidth":1.8},
  "encoding":{
   "x":{"field":"mV","type":"quantitative","scale":{"domain":[-110,50],"range":[570,778],"nice":false,"zero":false},"axis":{"orient":"bottom","offset":-126.2,"values":[-100,-90,-80,-70,-60,-50,-40,-30,-20,-10,0,10,20,30,40],"labelExpr":"datum.value % 20 === 0 ? '' + datum.value : ''","tickSize":{"condition":{"test":"datum.value % 20 === 0","value":5},"value":3},"labelPadding":1,"title":"mV","titleFontSize":20,"titleX":701,"titleY":47,"titleBaseline":"middle"}},
   "y":{"field":"Im","type":"quantitative","scale":{"domain":[-256,165],"range":[454.4,252.8],"nice":false,"zero":false},"axis":{"orient":"left","offset":-570,"values":[-250,-225,-200,-175,-150,-125,-100,-75,-50,-25,0,25,50,75,100,125,150],"labelExpr":"datum.value % 50 === 0 ? '' + datum.value : ''","tickSize":{"condition":{"test":"datum.value % 50 === 0","value":5},"value":3},"labelPadding":2,"title":null}},
   "color":{"field":"series","type":"nominal","scale":{"domain":["[Na⁺]ₒ=10","[Na⁺]ₒ=25","ICl x2"],"range":["#111111","#111111","#b8b8b8"]},"legend":null},
   "strokeDash":{"field":"series","type":"nominal","scale":{"domain":["[Na⁺]ₒ=10","[Na⁺]ₒ=25","ICl x2"],"range":[[7,4],[1,0],[1,0]]},"legend":null}
  }},
 {"data":{"name":"letters"},"transform":[{"filter":"datum.letter === 'f'"}],"mark":{"type":"text","fontSize":18,"fontWeight":"bold","align":"center","baseline":"alphabetic","color":"#000"},
  "encoding":{"x":{"datum":-129,"type":"quantitative","scale":{"domain":[-110,50],"range":[570,778]},"axis":null},"y":{"datum":178,"type":"quantitative","scale":{"domain":[-256,165],"range":[454.4,252.8]},"axis":null},"text":{"field":"letter"}}},
{"data":{"name":"inset"},"transform":[{"filter":"datum.panel === 'd'"}],"mark":{"type":"line","interpolate":"monotone","strokeWidth":1.5},
 "encoding":{
  "x":{"field":"mV","type":"quantitative","scale":{"domain":[-40,10],"range":[100,204],"nice":false,"zero":false},"axis":{"orient":"bottom","offset":-180.7,"values":[-30,-20,-10,0],"labelExpr":"datum.value % 20 === 0 ? '' + datum.value : ''","tickSize":3,"labelFontSize":8.5,"labelPadding":0,"title":null,"domainWidth":1,"tickWidth":1}},
  "y":{"field":"Im","type":"quantitative","scale":{"domain":[-21,16],"range":[318.7,245.8],"nice":false,"zero":false},"axis":{"orient":"left","offset":-100,"values":[-20,-10,0,10],"labelExpr":"'' + datum.value","tickSize":3,"labelFontSize":8.5,"labelPadding":1,"title":null,"domainWidth":1,"tickWidth":1}},
  "color":{"field":"series","type":"nominal","scale":{"domain":["[Na⁺]ₒ=10","[Na⁺]ₒ=25","ΔI"],"range":["#111111","#111111","#888888"]},"legend":null},
  "strokeDash":{"field":"series","type":"nominal","scale":{"domain":["[Na⁺]ₒ=10","[Na⁺]ₒ=25","ΔI"],"range":[[5,3],[1,0],[1,0]]},"legend":null}
 }},
{"data":{"name":"inset"},"transform":[{"filter":"datum.panel === 'e'"}],"mark":{"type":"line","interpolate":"monotone","strokeWidth":1.5},
 "encoding":{
  "x":{"field":"mV","type":"quantitative","scale":{"domain":[-40,10],"range":[353,456.5],"nice":false,"zero":false},"axis":{"orient":"bottom","offset":-180.7,"values":[-30,-20,-10,0],"labelExpr":"datum.value % 20 === 0 ? '' + datum.value : ''","tickSize":3,"labelFontSize":8.5,"labelPadding":0,"title":null,"domainWidth":1,"tickWidth":1}},
  "y":{"field":"Im","type":"quantitative","scale":{"domain":[-21,16],"range":[318.7,245.8],"nice":false,"zero":false},"axis":{"orient":"left","offset":-353,"values":[-20,-10,0,10],"labelExpr":"'' + datum.value","tickSize":3,"labelFontSize":8.5,"labelPadding":1,"title":null,"domainWidth":1,"tickWidth":1}},
  "color":{"field":"series","type":"nominal","scale":{"domain":["[Na⁺]ₒ=10","[Na⁺]ₒ=25","ICl"],"range":["#111111","#111111","#b8b8b8"]},"legend":null},
  "strokeDash":{"field":"series","type":"nominal","scale":{"domain":["[Na⁺]ₒ=10","[Na⁺]ₒ=25","ICl"],"range":[[5,3],[1,0],[1,0]]},"legend":null}
 }},
{"data":{"name":"inset"},"transform":[{"filter":"datum.panel === 'f'"}],"mark":{"type":"line","interpolate":"monotone","strokeWidth":1.5},
 "encoding":{
  "x":{"field":"mV","type":"quantitative","scale":{"domain":[-40,10],"range":[607,711],"nice":false,"zero":false},"axis":{"orient":"bottom","offset":-180.7,"values":[-30,-20,-10,0],"labelExpr":"datum.value % 20 === 0 ? '' + datum.value : ''","tickSize":3,"labelFontSize":8.5,"labelPadding":0,"title":null,"domainWidth":1,"tickWidth":1}},
  "y":{"field":"Im","type":"quantitative","scale":{"domain":[-21,16],"range":[318.7,245.8],"nice":false,"zero":false},"axis":{"orient":"left","offset":-607,"values":[-20,-10,0,10],"labelExpr":"'' + datum.value","tickSize":3,"labelFontSize":8.5,"labelPadding":1,"title":null,"domainWidth":1,"tickWidth":1}},
  "color":{"field":"series","type":"nominal","scale":{"domain":["[Na⁺]ₒ=10","[Na⁺]ₒ=25","ICl x2"],"range":["#111111","#111111","#b8b8b8"]},"legend":null},
  "strokeDash":{"field":"series","type":"nominal","scale":{"domain":["[Na⁺]ₒ=10","[Na⁺]ₒ=25","ICl x2"],"range":[[5,3],[1,0],[1,0]]},"legend":null}
 }}
],
"resolve":{"scale":{"x":"independent","y":"independent","color":"independent","strokeDash":"independent"},"axis":{"x":"independent","y":"independent"},"legend":{"color":"independent","strokeDash":"independent"}}
}
